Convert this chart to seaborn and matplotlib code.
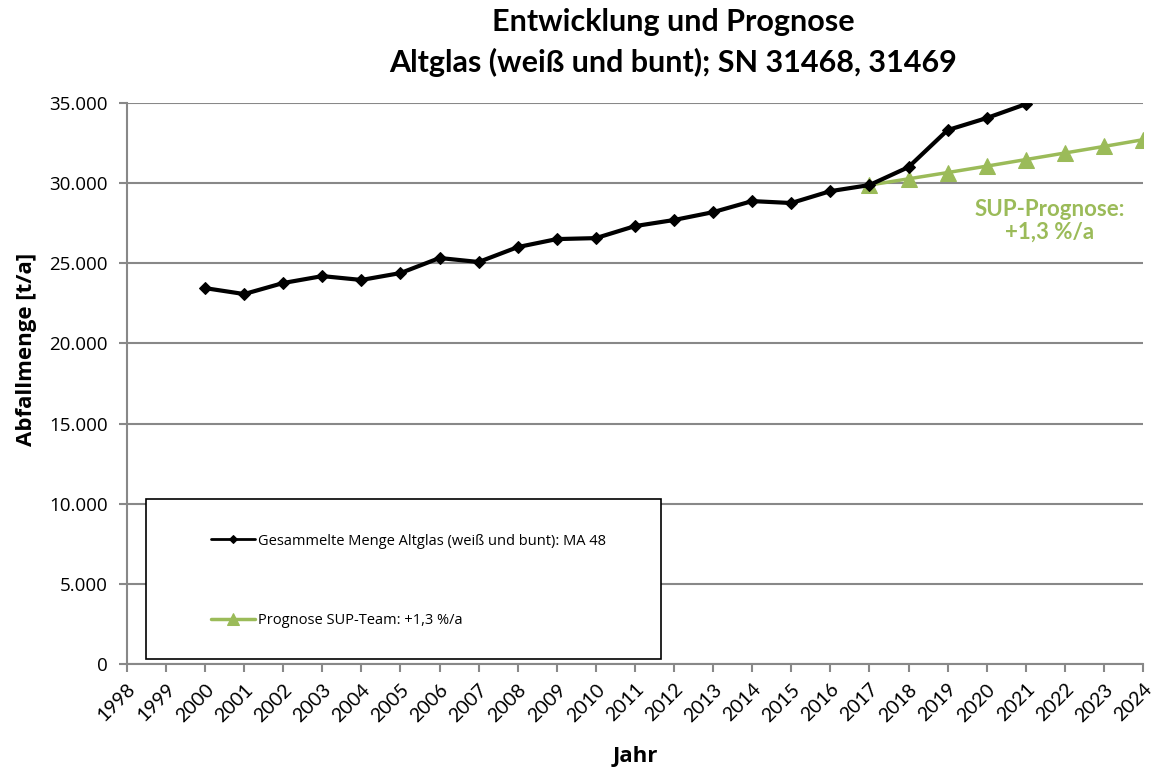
import matplotlib
matplotlib.use("Agg")
import matplotlib.pyplot as plt
import matplotlib.ticker as mticker
import matplotlib.transforms as mtransforms
from matplotlib.patches import Rectangle
import seaborn as sns
import pandas as pd

# Collected waste glass (t/a), MA 48
years_actual = [2000, 2001, 2002, 2003, 2004, 2005, 2006, 2007, 2008, 2009, 2010,
                2011, 2012, 2013, 2014, 2015, 2016, 2017, 2018, 2019, 2020, 2021]
amount_actual = [23450, 23080, 23770, 24200, 23960, 24390, 25330, 25080, 26010, 26510,
                 26570, 27320, 27700, 28190, 28880, 28760, 29500, 29880, 31000, 33310,
                 34060, 34930]

# Forecast +1,3 %/a
years_forecast = [2017, 2018, 2019, 2020, 2021, 2022, 2023, 2024]
amount_forecast = [29880, 30270, 30660, 31060, 31470, 31880, 32290, 32710]

year_ticks = list(range(1998, 2025))
y_ticks = [0, 5000, 10000, 15000, 20000, 25000, 30000, 35000]

label_actual = "Gesammelte Menge Altglas (weiß und bunt): MA 48"
label_forecast = "Prognose SUP-Team: +1,3 %/a"
green = "#9BBB59"
grid_grey = "#888888"

sns.set_style("white")
plt.rcParams["font.family"] = ["Open Sans", "DejaVu Sans"]
plt.rcParams["text.color"] = "black"
plt.rcParams["axes.labelcolor"] = "black"

fig = plt.figure(figsize=(11.53, 7.71), dpi=100)
ax = fig.add_axes([0.1101, 0.1388, 0.8812, 0.7276])

df_a = pd.DataFrame({"Jahr": years_actual, "Menge": amount_actual})
df_f = pd.DataFrame({"Jahr": years_forecast, "Menge": amount_forecast})

sns.lineplot(data=df_f, x="Jahr", y="Menge", ax=ax, color=green, linewidth=2.5,
             marker="^", markersize=12, markeredgecolor=green, label=label_forecast,
             zorder=3)
sns.lineplot(data=df_a, x="Jahr", y="Menge", ax=ax, color="black", linewidth=3,
             marker="D", markersize=6.5, markeredgecolor="black", label=label_actual,
             zorder=4)

ax.set_xlim(1998, 2024)
ax.set_ylim(0, 35000)
ax.set_xticks(year_ticks)
ax.set_xticklabels([str(y) for y in year_ticks], rotation=45, ha="right",
                   rotation_mode="anchor", fontsize=14, family=["Lato", "DejaVu Sans"])
shift = mtransforms.ScaledTranslation(9 / 100, -2 / 100, fig.dpi_scale_trans)
for lbl in ax.get_xticklabels():
    lbl.set_transform(lbl.get_transform() + shift)
ax.set_yticks(y_ticks)
ax.yaxis.set_major_formatter(mticker.FuncFormatter(lambda v, p: f"{int(v):,}".replace(",", ".")))
ax.tick_params(axis="y", labelsize=13.5, length=6, width=1.5, color=grid_grey, pad=8,
               direction="out", left=True, labelcolor="black")
ax.tick_params(axis="x", length=6, width=1.5, color=grid_grey, pad=6,
               direction="out", bottom=True, labelcolor="black")

ax.grid(axis="y", color=grid_grey, linewidth=1.5)
ax.grid(axis="x", visible=False)
ax.set_axisbelow(True)
for side in ["top", "right"]:
    ax.spines[side].set_visible(False)
for side in ["left", "bottom"]:
    ax.spines[side].set_color(grid_grey)
    ax.spines[side].set_linewidth(1.5)

ax.set_xlabel("Jahr", fontsize=16, fontweight="bold")
ax.xaxis.set_label_coords(0.5, -0.146)
ax.set_ylabel("Abfallmenge [t/a]", fontsize=16, fontweight="bold")
ax.yaxis.set_label_coords(-0.089, 0.56)

# Legend box
ax.add_patch(Rectangle((0.0187, 0.0089), 0.5069, 0.2851, transform=ax.transAxes,
                       facecolor="white", edgecolor="black", linewidth=1.2, zorder=5))
handles, labels = ax.get_legend_handles_labels()
order = [labels.index(label_actual), labels.index(label_forecast)]
leg = ax.legend([handles[i] for i in order], [labels[i] for i in order],
                loc="upper left", bbox_to_anchor=(0.077, 0.243), frameon=False,
                fontsize=10.5, handlelength=3.0, handletextpad=0.25, labelspacing=4.4,
                borderaxespad=0)
leg.set_zorder(6)
for h in leg.legend_handles:
    if h.get_color() == "black":
        h.set_markersize(4)
        h.set_linewidth(2)
    else:
        h.set_markersize(8)
        h.set_linewidth(2.5)

ax.text(2021.62, 27630, "SUP-Prognose:\n+1,3 %/a", color=green, fontsize=16,
        fontweight="bold", ha="center", va="center", linespacing=1.08,
        family=["Lato", "DejaVu Sans"])

fig.text(0.584, 0.971, "Entwicklung und Prognose", ha="center", va="center",
         fontsize=22, fontweight="bold", family=["Lato", "DejaVu Sans"])
fig.text(0.584, 0.919, "Altglas (weiß und bunt); SN 31468, 31469", ha="center",
         va="center", fontsize=22, fontweight="bold", family=["Lato", "DejaVu Sans"])

fig.savefig("out.png", dpi=100)
